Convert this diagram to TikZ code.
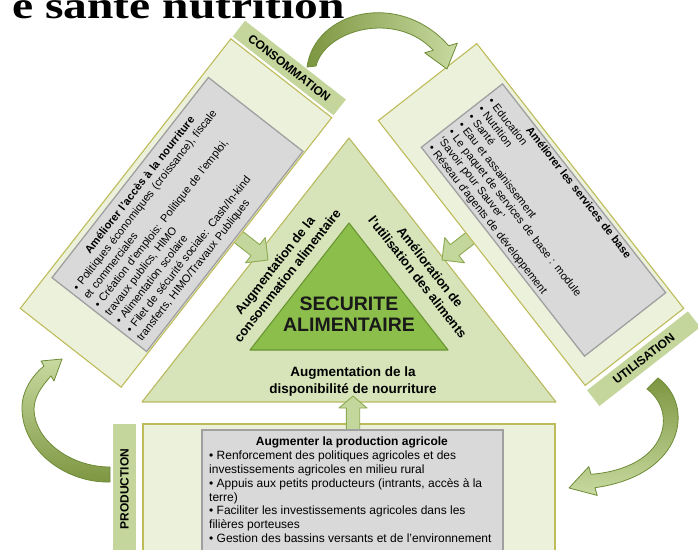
\documentclass[tikz,border=0pt]{standalone}
\usepackage{fontspec}
\setmainfont{Liberation Sans}
\newfontfamily\titlefont{Liberation Serif}
\definecolor{panelfill}{RGB}{236,241,220}
\definecolor{panelline}{RGB}{190,188,90}
\definecolor{bandfill}{RGB}{196,214,155}
\definecolor{trifill}{RGB}{215,228,185}
\definecolor{triline}{RGB}{185,185,95}
\definecolor{innerfill}{RGB}{140,190,75}
\definecolor{innerline}{RGB}{105,150,50}
\definecolor{grayfill}{RGB}{217,217,217}
\definecolor{grayline}{RGB}{160,160,160}
\definecolor{arrowfill}{RGB}{195,214,155}
\definecolor{arrowline}{RGB}{140,170,80}
\definecolor{curvedark}{RGB}{125,150,65}
\definecolor{curvelight}{RGB}{200,218,160}
\definecolor{curveline}{RGB}{110,140,55}
\begin{document}
\begin{tikzpicture}[x=1pt,y=-1pt,
  panel/.style={draw=panelline, fill=panelfill, line width=1.1pt, inner sep=0pt},
  graybox/.style={draw=grayline, fill=grayfill, line width=1.3pt, inner sep=0pt},
  bandbox/.style={fill=bandfill, inner sep=0pt, font=\bfseries\fontsize{12}{12}\selectfont},
  boxtext/.style={inner sep=0pt, align=left, font=\fontsize{11}{13.5}\selectfont},
  trilabel/.style={inner sep=0pt, align=center, font=\bfseries\fontsize{13}{16}\selectfont},
  straightarrow/.style={draw=arrowline, fill=arrowfill, line width=0.9pt, line join=round},
  curvearrow/.style={draw=curveline, line width=0.8pt, line join=round}
]
\useasboundingbox (0,0) rectangle (698,549);
\clip (0,0) rectangle (698,549);
\fill[white] (0,0) rectangle (698,549);

% cut title
\node[anchor=base east, inner sep=0pt, xscale=1.25, font=\titlefont\bfseries\fontsize{38}{38}\selectfont] (title) at (345,18) {e santé nutrition};

% triangles
\coordinate (ta) at (349,138);
\coordinate (tr) at (556,402);
\coordinate (tl) at (142,402);
\draw[draw=triline, fill=trifill, line width=1.1pt, line join=round] (ta) -- (tr) -- (tl) -- cycle;
\coordinate (ia) at (349,223);
\coordinate (ir) at (448,350);
\coordinate (il) at (250,350);
\draw[draw=innerline, fill=innerfill, line width=1.1pt, line join=round] (ia) -- (ir) -- (il) -- cycle;

\node[inner sep=0pt, align=center, text=black!90, font=\bfseries\fontsize{19.5}{21}\selectfont] (secu) at (349,314) {SECURITE\\ALIMENTAIRE};
\node[trilabel, rotate=52] (lab1) at (281,270.5) {Augmentation de la\\consommation alimentaire};
\node[trilabel, rotate=-52] (lab2) at (424,272) {Amélioration de\\l'utilisation des aliments};
\node[trilabel, font=\bfseries\fontsize{13.5}{17}\selectfont] (lab3) at (353,381.5) {Augmentation de la\\disponibilité de nourriture};

% straight block arrows
\begin{scope}[shift={(268,260)}, rotate=-38]
\draw[straightarrow] (0,0) -- (-16,16) -- (-16,7) -- (-46,7) -- (-46,-7) -- (-16,-7) -- (-16,-16) -- cycle;
\end{scope}
\begin{scope}[shift={(442,260)}, rotate=-142]
\draw[straightarrow] (0,0) -- (-16,16) -- (-16,7) -- (-46,7) -- (-46,-7) -- (-16,-7) -- (-16,-16) -- cycle;
\end{scope}

% left panel
\node[panel, rotate=52, minimum width=342pt, minimum height=128pt] (lpanel) at (176,213) {};
\node[graybox, rotate=52, minimum width=254pt, minimum height=120pt] (lgray) at (177.5,214.5) {};
\node[boxtext, rotate=52, text width=244pt] (ltext) at (177.5,214.5) {\makebox[244pt]{\bfseries Améliorer l'accès à la nourriture}\\
• Politiques économiques (croissance), fiscale\\
et commerciales\\
• Création d'emplois: Politique de l'emploi,\\
travaux publics, HIMO\\
• Alimentation scolaire\\
• Filet de sécurité sociale: Cash/In-kind\\
transferts, HIMO/Travaux Publiques};
\node[bandbox, rotate=-38, minimum width=128pt, minimum height=20pt] (lband) at (289.3,68) {CONSOMMATION};

% right panel
\node[panel, rotate=-52, minimum width=336pt, minimum height=125pt] (rpanel) at (531,214.5) {};
\node[graybox, rotate=-52, minimum width=265pt, minimum height=103pt] (rgray) at (543.5,220) {};
\node[boxtext, rotate=-52, text width=255pt, font=\fontsize{11}{12.6}\selectfont] (rtext) at (543.5,220) {\makebox[255pt]{\bfseries Améliorer les services de base}\\
• Education\\
• Nutrition\\
• Santé\\
• Eau et assainissement\\
• Le paquet de services de base : module\\
‘Savoir pour Sauver’\\
• Réseau d'agents de développement};
\node[bandbox, rotate=38, minimum width=128pt, minimum height=20pt] (rband) at (643.7,358.7) {UTILISATION};

% bottom panel
\draw[panel] (143,424) rectangle (555,560);
\node[bandbox, rotate=90, minimum width=130pt, minimum height=23pt] (bband) at (124.5,489) {PRODUCTION};
\begin{scope}[shift={(353,396)}, rotate=90]
\draw[straightarrow] (0,0) -- (-12,14) -- (-12,6.7) -- (-34,6.7) -- (-34,-6.7) -- (-12,-6.7) -- (-12,-14) -- cycle;
\end{scope}
\draw[graybox] (202,430) rectangle (503,560);
\node[anchor=north west, inner sep=0pt, align=left, font=\fontsize{12}{13.9}\selectfont] (btext) at (209,436.5) {\makebox[285.4pt]{\bfseries Augmenter la production agricole}\\
• Renforcement des politiques agricoles et des\\
investissements agricoles en milieu rural\\
• Appuis aux petits producteurs (intrants, accès à la\\
terre)\\
• Faciliter les investissements agricoles dans les\\
filières porteuses\\
• Gestion des bassins versants et de l'environnement};

% curved arrows
\shade[curvearrow, left color=curvedark, right color=curvelight]
 (307,67) .. controls (315,10) and (400,-10) .. (448.7,45.8) -- (457.3,43.2) -- (447,69) -- (424.7,52.8) -- (433.3,50.2) .. controls (395,10) and (325,30) .. (316,66) -- cycle;
\shade[curvearrow, top color=curvedark, bottom color=curvelight]
 (658,378) .. controls (695,405) and (685,475) .. (595,487.7) -- (597.2,495.4) -- (569,488) -- (588.8,466.6) -- (591,474.3) .. controls (668,468) and (678,412) .. (647,389) -- cycle;
\shade[curvearrow, bottom color=curvedark, top color=curvelight]
 (110,482) .. controls (65,483) and (22,450) .. (22,408) .. controls (22,390) and (33,375) .. (44,366) -- (41,361) -- (62,359) -- (54,381) -- (51,376) .. controls (40,388) and (34,398) .. (34,410) .. controls (35,440) and (70,467) .. (110,467) -- cycle;
\end{tikzpicture}
\end{document}
